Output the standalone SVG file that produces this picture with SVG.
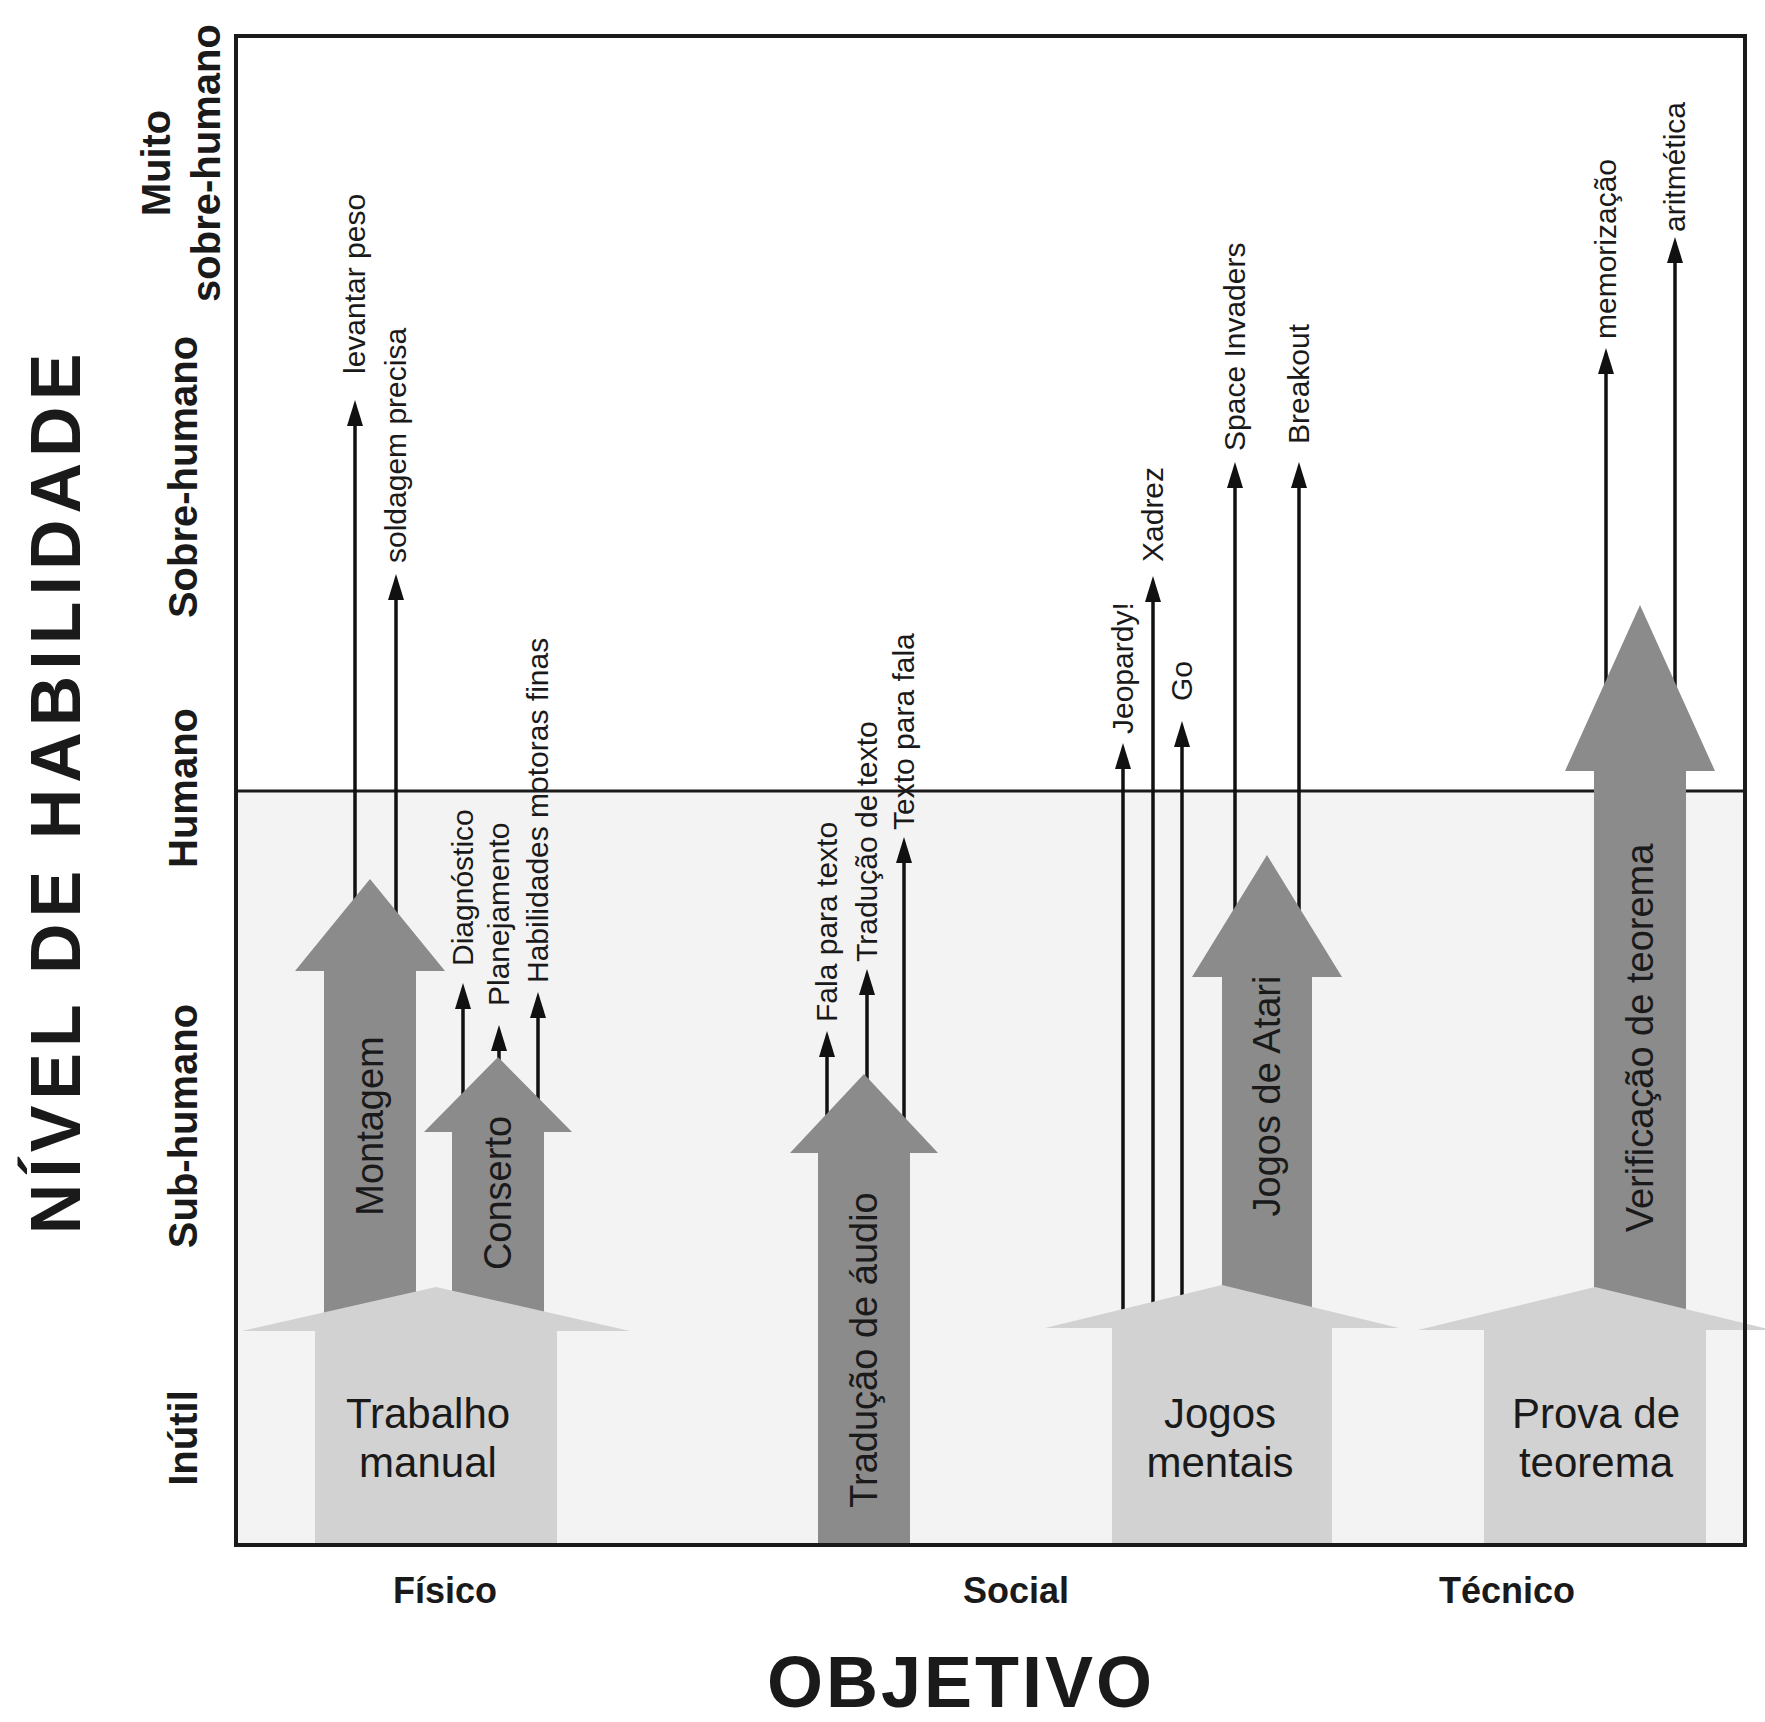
<svg xmlns="http://www.w3.org/2000/svg" width="1765" height="1722" viewBox="0 0 1765 1722">
<defs>
<marker id="ah" viewBox="0 0 26 16" refX="12" refY="8" markerWidth="26" markerHeight="16" orient="auto" markerUnits="userSpaceOnUse">
<path d="M0,0 L26,8 L0,16 z" fill="#111"/>
</marker>
<style>
text{font-family:"Liberation Sans",Arial,sans-serif;fill:#1a1a1a}
.lvl{font-weight:bold;font-size:40px;text-anchor:middle}
.ax{font-weight:bold;font-size:36px;text-anchor:middle}
.lbl{font-size:30px}
.dl{font-size:38px;text-anchor:middle}
.ll{font-size:42px;text-anchor:middle}
.dark{fill:#8b8b8b}
.light{fill:#d2d2d2}
.conn line{stroke:#111;stroke-width:3.5;marker-end:url(#ah)}
</style>
</defs>
<rect width="1765" height="1722" fill="#ffffff"/>
<rect x="236" y="791" width="1509" height="754" fill="#f3f3f3"/>
<line x1="236" y1="791" x2="1745" y2="791" stroke="#1a1a1a" stroke-width="3"/>

<g id="axis-y">
<text class="lvl" transform="translate(170,163) rotate(-90)">Muito</text>
<text class="lvl" transform="translate(220,163) rotate(-90)">sobre-humano</text>
<text class="lvl" transform="translate(197,477) rotate(-90)">Sobre-humano</text>
<text class="lvl" transform="translate(197,788) rotate(-90)">Humano</text>
<text class="lvl" transform="translate(197,1126) rotate(-90)">Sub-humano</text>
<text class="lvl" transform="translate(197,1438) rotate(-90)">Inútil</text>
<text transform="translate(80,791) rotate(-90)" style="font-weight:bold;font-size:70px;text-anchor:middle;letter-spacing:6px">NÍVEL DE HABILIDADE</text>
</g>

<g id="axis-x">
<text class="ax" x="445" y="1603">Físico</text>
<text class="ax" x="1016" y="1603">Social</text>
<text class="ax" x="1507" y="1603">Técnico</text>
<text x="961" y="1707" style="font-weight:bold;font-size:72px;text-anchor:middle;letter-spacing:3px">OBJETIVO</text>
</g>

<g id="connectors" class="conn">
<line x1="355" y1="920" x2="355" y2="414"/>
<line x1="396" y1="920" x2="396" y2="588"/>
<line x1="463" y1="1100" x2="463" y2="997"/>
<line x1="499" y1="1070" x2="499" y2="1039"/>
<line x1="538" y1="1100" x2="538" y2="1006"/>
<line x1="827" y1="1120" x2="827" y2="1045"/>
<line x1="867" y1="1090" x2="867" y2="983"/>
<line x1="904" y1="1120" x2="904" y2="851"/>
<line x1="1123" y1="1320" x2="1123" y2="757"/>
<line x1="1153" y1="1320" x2="1153" y2="590"/>
<line x1="1182" y1="1320" x2="1182" y2="735"/>
<line x1="1235" y1="920" x2="1235" y2="476"/>
<line x1="1299" y1="920" x2="1299" y2="476"/>
<line x1="1606" y1="700" x2="1606" y2="362"/>
<line x1="1675" y1="700" x2="1675" y2="251"/>
</g>

<g id="arrow-labels" class="lbl">
<text transform="translate(365,374) rotate(-90)">levantar peso</text>
<text transform="translate(406,563) rotate(-90)">soldagem precisa</text>
<text transform="translate(473,966) rotate(-90)">Diagnóstico</text>
<text transform="translate(509,1006) rotate(-90)">Planejamento</text>
<text transform="translate(548,983) rotate(-90)">Habilidades motoras finas</text>
<text transform="translate(837,1022) rotate(-90)">Fala para texto</text>
<text transform="translate(877,962) rotate(-90)">Tradução de texto</text>
<text transform="translate(914,830) rotate(-90)">Texto para fala</text>
<text transform="translate(1133,734) rotate(-90)">Jeopardy!</text>
<text transform="translate(1163,562) rotate(-90)">Xadrez</text>
<text transform="translate(1192,701) rotate(-90)">Go</text>
<text transform="translate(1245,451) rotate(-90)">Space Invaders</text>
<text transform="translate(1309,444) rotate(-90)">Breakout</text>
<text transform="translate(1616,339) rotate(-90)">memorização</text>
<text transform="translate(1685,232) rotate(-90)">aritmética</text>
</g>

<g id="montagem">
<path class="dark" d="M324,1320 L324,971 L295,971 L370,879 L445,971 L416,971 L416,1320 Z"/>
<text class="dl" transform="translate(383,1126) rotate(-90)">Montagem</text>
</g>
<g id="conserto">
<path class="dark" d="M452,1320 L452,1132 L424,1132 L498,1057 L572,1132 L544,1132 L544,1320 Z"/>
<text class="dl" transform="translate(511,1193) rotate(-90)">Conserto</text>
</g>
<g id="traducao-audio">
<path class="dark" d="M818,1543 L818,1153 L790,1153 L864,1074 L938,1153 L910,1153 L910,1543 Z"/>
<text class="dl" transform="translate(877,1350) rotate(-90)">Tradução de áudio</text>
</g>
<g id="jogos-atari">
<path class="dark" d="M1222,1320 L1222,977 L1192,977 L1267,855 L1342,977 L1312,977 L1312,1320 Z"/>
<text class="dl" transform="translate(1280,1096) rotate(-90)">Jogos de Atari</text>
</g>
<g id="verificacao">
<path class="dark" d="M1594,1320 L1594,771 L1565,771 L1640,605 L1715,771 L1686,771 L1686,1320 Z"/>
<text class="dl" transform="translate(1653,1038) rotate(-90)">Verificação de teorema</text>
</g>

<g id="trabalho-manual">
<path class="light" d="M315,1543 L315,1331 L242,1331 L436,1287 L630,1331 L557,1331 L557,1543 Z"/>
<text class="ll" x="428" y="1428">Trabalho</text>
<text class="ll" x="428" y="1477">manual</text>
</g>
<g id="jogos-mentais">
<path class="light" d="M1112,1543 L1112,1328 L1045,1328 L1222,1285 L1399,1328 L1332,1328 L1332,1543 Z"/>
<text class="ll" x="1220" y="1428">Jogos</text>
<text class="ll" x="1220" y="1477">mentais</text>
</g>
<g id="prova-teorema">
<path class="light" d="M1484,1543 L1484,1330 L1418,1330 L1595,1287 L1772,1330 L1706,1330 L1706,1543 Z"/>
<text class="ll" x="1596" y="1428">Prova de</text>
<text class="ll" x="1596" y="1477">teorema</text>
</g>

<rect x="236" y="36" width="1509" height="1509" fill="none" stroke="#1a1a1a" stroke-width="4"/>
</svg>
